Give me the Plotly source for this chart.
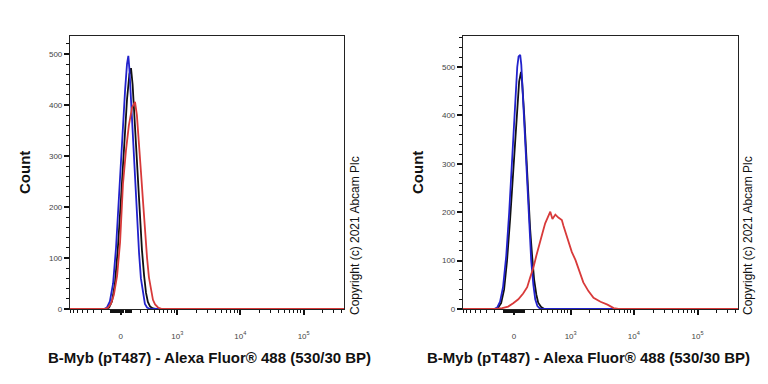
import numpy as np
import plotly.graph_objects as go

W, H = 768, 384

# ---------------- data (histogram counts vs. display channel, 0..1024) ----------------
# Left panel
L_BLUE_CH = [127, 138, 149, 161, 172, 183, 194, 206, 213, 218, 222, 228, 235, 243, 250, 258, 265, 273, 280, 288, 299]
L_BLUE_N = [0, 3, 15, 50, 120, 220, 330, 430, 480, 496, 470, 410, 330, 260, 180, 110, 60, 28, 10, 3, 0]

L_BLACK_CH = [135, 146, 157, 168, 179, 191, 202, 213, 222, 228, 234, 239, 247, 254, 262, 269, 277, 284, 291, 299, 310, 321]
L_BLACK_N = [0, 3, 15, 50, 120, 220, 320, 410, 460, 472, 440, 390, 320, 255, 180, 115, 65, 32, 14, 5, 1, 0]

L_RED_CH = [131, 142, 153, 164, 176, 187, 198, 209, 220, 232, 243, 250, 258, 265, 273, 280, 288, 295, 303, 310, 318, 329, 344]
L_RED_N = [0, 3, 10, 28, 65, 130, 245, 310, 360, 395, 406, 380, 330, 270, 210, 150, 100, 62, 35, 18, 9, 3, 0]

# Right panel
R_BLUE_CH = [116, 127, 138, 149, 161, 172, 183, 194, 202, 207, 213, 217, 224, 232, 239, 247, 254, 262, 269, 277, 288]
R_BLUE_N = [0, 3, 15, 45, 110, 200, 300, 420, 500, 522, 525, 505, 430, 340, 250, 170, 100, 50, 20, 6, 0]

R_BLACK_CH = [120, 131, 142, 153, 164, 176, 187, 198, 209, 216, 220, 228, 235, 243, 250, 258, 265, 273, 280, 291, 303]
R_BLACK_N = [0, 3, 12, 40, 100, 190, 290, 390, 470, 490, 470, 400, 320, 240, 165, 105, 60, 30, 13, 4, 0]

R_RED_CH = [120, 146, 168, 187, 206, 224, 239, 250, 262, 273, 284, 295, 306, 318, 325, 333, 344, 355, 368,
            374, 381, 392, 405, 419, 430, 437, 448, 467, 486, 512, 538, 561, 579]
R_RED_N = [0, 2, 5, 12, 20, 32, 45, 65, 85, 110, 130, 155, 177, 194, 201, 186, 195, 189, 184,
           172, 160, 140, 118, 101, 82, 70, 55, 37, 23, 15, 9, 2, 0]

MAJOR_VALUES = [0, 1e3, 1e4, 1e5]
MAJOR_LABELS = ["0", "10<sup>3</sup>", "10<sup>4</sup>", "10<sup>5</sup>"]
MINOR_VALUES = ([-v for v in range(100, 900, 100)] + list(range(-90, 100, 10)) +
                list(range(100, 1000, 100)) + list(range(2000, 10000, 1000)) +
                list(range(20000, 100000, 10000)) + [200000, 300000, 400000])

X_TITLE = "B-Myb (pT487) - Alexa Fluor® 488 (530/30 BP)"
Y_TITLE = "Count"
COPYRIGHT = "Copyright (c) 2021 Abcam Plc"

# biexponential-like display transform (raw intensity -> channel)
C0, K, WID = 190.0, 237.0, 131.0


def to_channel(v):
    return C0 + K * np.arcsinh(np.asarray(v, dtype=float) / (2 * WID)) / np.log(10)


# ---------------- figure ----------------
def px_x(p):
    return p / W


def px_y(p):
    return 1 - p / H


BLUE = "#2222cc"
BLACK = "#111111"
RED = "#d83a3a"

fig = go.Figure()


def add(ch, n, color, xa, ya):
    fig.add_trace(go.Scatter(x=[0] + ch + [1024], y=[0] + n + [0], mode="lines",
                             line=dict(color=color, width=1.8), xaxis=xa, yaxis=ya,
                             showlegend=False, hoverinfo="skip"))


add(L_BLACK_CH, L_BLACK_N, BLACK, "x", "y")
add(L_BLUE_CH, L_BLUE_N, BLUE, "x", "y")
add(L_RED_CH, L_RED_N, RED, "x", "y")
add(R_BLACK_CH, R_BLACK_N, BLACK, "x2", "y2")
add(R_BLUE_CH, R_BLUE_N, BLUE, "x2", "y2")
add(R_RED_CH, R_RED_N, RED, "x2", "y2")

tickfont = dict(family="Arial, Liberation Sans", size=8, color="#444")
xcommon = dict(range=[0, 1024], tickmode="array", tickvals=list(to_channel(MAJOR_VALUES)),
               ticktext=MAJOR_LABELS, ticks="outside", ticklen=5, tickwidth=1.5, tickcolor="#111",
               showline=True, linecolor="#222", linewidth=1.2, mirror=True, showgrid=False,
               zeroline=False, tickfont=tickfont, ticklabelstandoff=14, automargin=False,
               minor=dict(tickmode="array", tickvals=list(to_channel(MINOR_VALUES)), ticks="outside",
                          ticklen=3, tickwidth=1, tickcolor="#111", showgrid=False))
ycommon = dict(tickmode="linear", tick0=0, dtick=100, ticks="outside", ticklen=5, tickwidth=1.5,
               tickcolor="#111", showline=True, linecolor="#222", linewidth=1.2, mirror=True,
               showgrid=False, zeroline=False, tickfont=tickfont, automargin=False,
               minor=dict(dtick=20, ticks="outside", ticklen=3, tickwidth=1, tickcolor="#111",
                          showgrid=False))

ydom = [px_y(309), px_y(36)]
fig.update_layout(
    width=W, height=H, margin=dict(l=0, r=0, t=0, b=0, autoexpand=False),
    paper_bgcolor="white", plot_bgcolor="white",
    xaxis=dict(domain=[px_x(70), px_x(344)], anchor="y", **xcommon),
    yaxis=dict(domain=ydom, anchor="x", range=[0, 535], **ycommon),
    xaxis2=dict(domain=[px_x(463), px_x(738)], anchor="y2", **xcommon),
    yaxis2=dict(domain=ydom, anchor="x2", range=[0, 564], **ycommon),
)

titlefont = dict(family="Arial, Liberation Sans", size=15, color="#111")
for cx, ylab_x, copy_x in [(209, 25, 355), (588, 418, 748)]:
    fig.add_annotation(text="<b>" + X_TITLE + "</b>", x=px_x(cx), y=px_y(357), xref="paper", yref="paper",
                       showarrow=False, font=titlefont, xanchor="center", yanchor="middle")
    fig.add_annotation(text="<b>" + Y_TITLE + "</b>", x=px_x(ylab_x), y=px_y(173), xref="paper", yref="paper",
                       showarrow=False, textangle=-90, font=dict(family="Arial, Liberation Sans", size=15, color="#111"),
                       xanchor="center", yanchor="middle")
    fig.add_annotation(text=COPYRIGHT, x=px_x(copy_x), y=px_y(236), xref="paper", yref="paper",
                       showarrow=False, textangle=-90, font=dict(family="Arial, Liberation Sans", size=12, color="#111"),
                       xanchor="center", yanchor="middle")

post = "document.body.style.margin='0';document.body.style.overflow='hidden';"
fig.write_html("out.html", post_script=post, config={"displayModeBar": False})
